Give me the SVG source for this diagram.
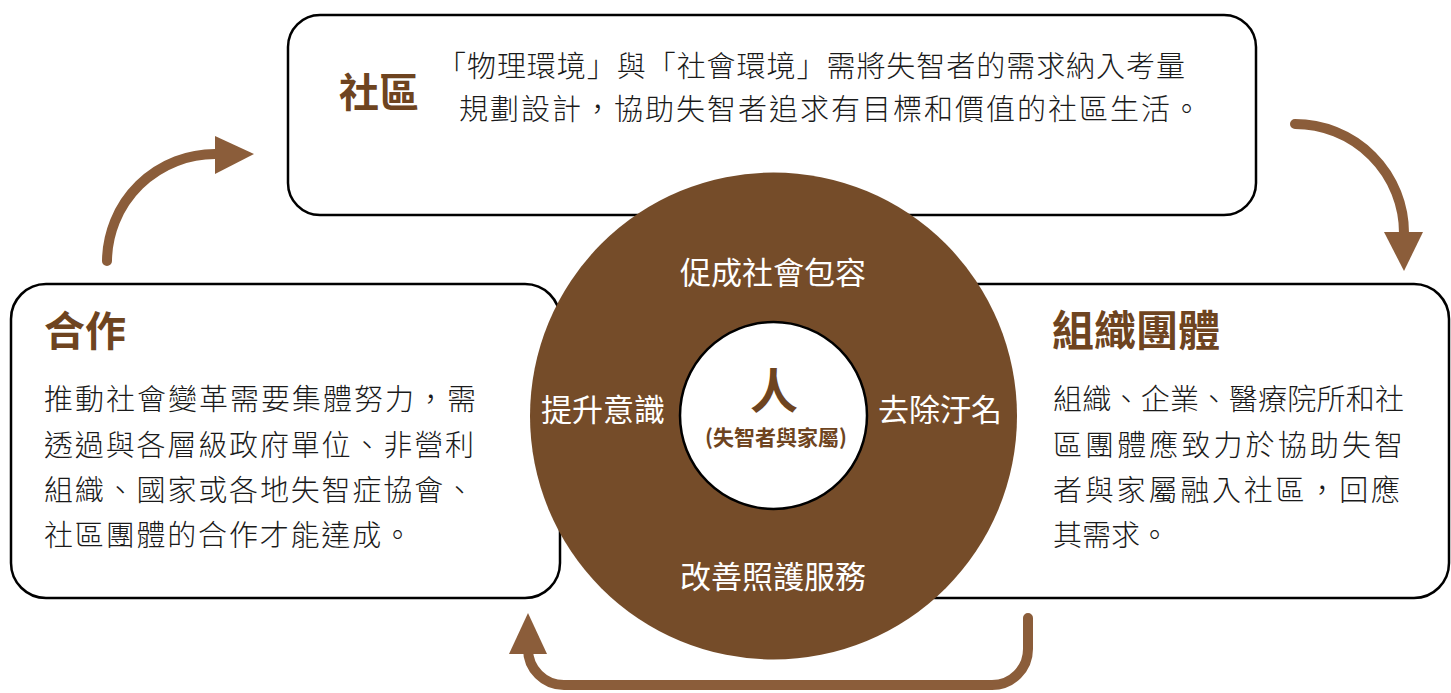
<svg xmlns="http://www.w3.org/2000/svg" width="1451" height="693" viewBox="0 0 1451 693">
<style>
.box{fill:#fff;stroke:#000;stroke-width:2.5}
.t{font-family:"Noto Sans CJK TC","Noto Sans",sans-serif;fill:#1a1a1a;font-size:29px;font-weight:300}
.h{font-family:"Noto Sans CJK TC","Noto Sans",sans-serif;fill:#6e4420;font-weight:bold}
.w{font-family:"Noto Sans CJK TC","Noto Sans",sans-serif;fill:#fff;font-size:31px;text-anchor:middle}
.arr{fill:none;stroke:#8b5d3a;stroke-width:10;stroke-linecap:round}
.head{fill:#8b5d3a}
</style>
<g id="community">
<rect class="box" x="288" y="15" width="968" height="200" rx="32"/>
<text class="h" x="339" y="107" font-size="40">社區</text>
<text class="t" x="437" y="77" textLength="748" lengthAdjust="spacing">「物理環境」與「社會環境」需將失智者的需求納入考量</text>
<text class="t" x="459" y="120" textLength="742" lengthAdjust="spacing">規劃設計，協助失智者追求有目標和價值的社區生活。</text>
</g>
<g id="cooperation">
<rect class="box" x="11" y="284" width="549" height="314" rx="35"/>
<text class="h" x="44" y="346" font-size="41">合作</text>
<text class="t" x="44" y="410" textLength="432" lengthAdjust="spacing">推動社會變革需要集體努力，需</text>
<text class="t" x="44" y="456" textLength="430" lengthAdjust="spacing">透過與各層級政府單位、非營利</text>
<text class="t" x="44" y="501" textLength="430" lengthAdjust="spacing">組織、國家或各地失智症協會、</text>
<text class="t" x="44" y="546" textLength="368" lengthAdjust="spacing">社區團體的合作才能達成。</text>
</g>
<g id="organizations">
<rect class="box" x="900" y="284" width="549" height="314" rx="35"/>
<text class="h" x="1052" y="346" font-size="42">組織團體</text>
<text class="t" x="1053" y="410" textLength="351" lengthAdjust="spacing">組織、企業、醫療院所和社</text>
<text class="t" x="1053" y="456" textLength="350" lengthAdjust="spacing">區團體應致力於協助失智</text>
<text class="t" x="1053" y="501" textLength="347" lengthAdjust="spacing">者與家屬融入社區，回應</text>
<text class="t" x="1053" y="546">其需求。</text>
</g>
<g id="core">
<circle cx="773.5" cy="416" r="243.5" fill="#754c29"/>
<text class="w" x="773" y="284">促成社會包容</text>
<text class="w" x="603" y="421">提升意識</text>
<text class="w" x="940" y="421">去除汙名</text>
<text class="w" x="773" y="588">改善照護服務</text>
</g>
<g id="person">
<circle cx="773.5" cy="415.5" r="93.5" fill="#fff" stroke="#000" stroke-width="2.5"/>
<text class="h" x="774" y="408" font-size="48" text-anchor="middle">人</text>
<text class="h" x="776" y="445" font-size="21" text-anchor="middle">(失智者與家屬)</text>
</g>
<g id="connectors">
<path class="arr" d="M107,261 A108,108 0 0 1 216,154"/>
<polygon class="head" points="215,136 254,154 215,174"/>
<path class="arr" d="M1295,124 A109,109 0 0 1 1404,233"/>
<polygon class="head" points="1384,232 1423,232 1404,271"/>
<path class="arr" d="M1028,618 L1028,649 A36,36 0 0 1 992,685 L564,685 A36,36 0 0 1 528,649 L528,652"/>
<polygon class="head" points="509,654 547,654 528,613"/>
</g>
</svg>
